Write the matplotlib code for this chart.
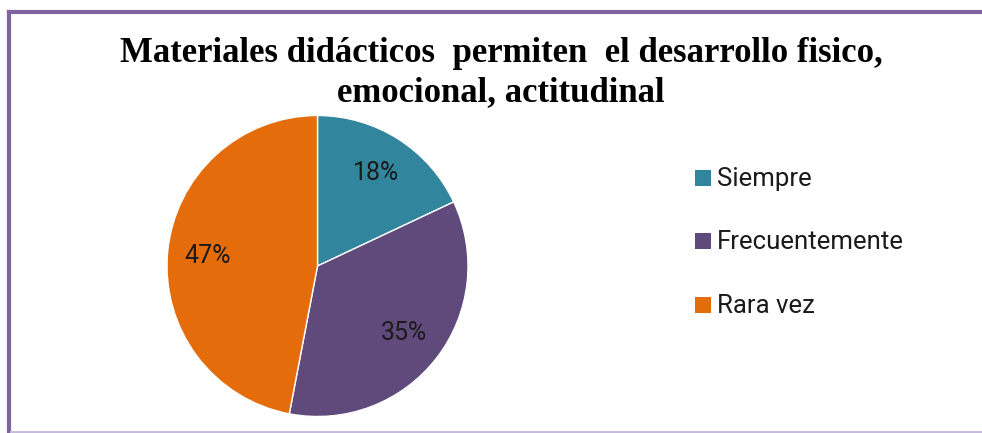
import matplotlib
matplotlib.use("Agg")
import matplotlib.pyplot as plt
from matplotlib.patches import Rectangle
from matplotlib.lines import Line2D

categories = ["Siempre", "Frecuentemente", "Rara vez"]
values = [18, 35, 47]
colors = ["#31859C", "#604A7B", "#E46C0A"]
title_lines = ["Materiales didácticos  permiten  el desarrollo fisico,",
               "emocional, actitudinal"]

W, H = 982, 433
fig = plt.figure(figsize=(W / 100, H / 100), dpi=100)

def fx(px):
    return px / W

def fy(py):
    return 1 - py / H

# border (left & top strong, bottom partially cropped -> light)
fig.lines.append(Line2D([fx(9), fx(9)], [fy(432), fy(11.5)], transform=fig.transFigure,
                        color="#8064A2", linewidth=3, solid_capstyle="projecting"))
fig.lines.append(Line2D([fx(9), 1.01], [fy(11.5), fy(11.5)], transform=fig.transFigure,
                        color="#8064A2", linewidth=3, solid_capstyle="projecting"))
fig.lines.append(Line2D([fx(11), 1.01], [fy(432), fy(432)], transform=fig.transFigure,
                        color="#C7B9DA", linewidth=2))

for line, base in zip(title_lines, [62, 101]):
    fig.text(fx(501), fy(base), line, ha="center", va="baseline",
             fontsize=25, fontweight="bold", family="Liberation Serif")

cx, cy, r = 317.5, H - 266, 150.5
ax = fig.add_axes([(cx - r) / W, (cy - r) / H, 2 * r / W, 2 * r / H])
wedges, texts, autotexts = ax.pie(values, colors=colors, startangle=90, counterclock=False,
                                  autopct="%d%%", pctdistance=0.73,
                                  wedgeprops=dict(edgecolor="white", linewidth=1),
                                  textprops=dict(fontsize=18, family="Roboto",
                                                 color="#1a1a1a"))
ax.set_xlim(-1, 1)
ax.set_ylim(-1, 1)

# legend
row_bottoms = [186, 249, 313]
for cat, col, yb in zip(categories, colors, row_bottoms):
    fig.patches.append(Rectangle((fx(695), fy(yb)), 16 / W, 16 / H,
                                 transform=fig.transFigure, facecolor=col,
                                 edgecolor="none"))
    fig.text(fx(717), fy(yb), cat, ha="left", va="baseline",
             fontsize=18.5, family="Roboto", color="#1a1a1a")

fig.savefig("out.png", dpi=100)
